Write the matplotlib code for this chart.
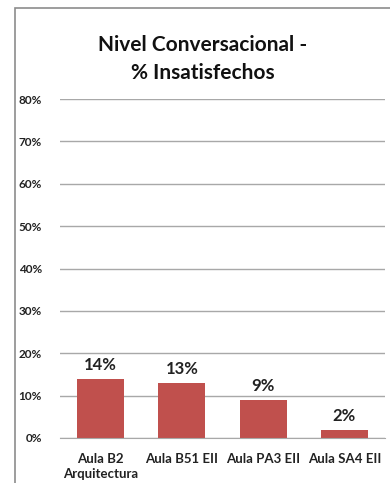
import matplotlib.pyplot as plt
from matplotlib.patches import Rectangle

categories = ["Aula B2\nArquitectura", "Aula B51 EII", "Aula PA3 EII", "Aula SA4 EII"]
values = [14, 13, 9, 2]
yticks = [0, 10, 20, 30, 40, 50, 60, 70, 80]

plt.rcParams["font.family"] = ["Lato", "DejaVu Sans"]

fig = plt.figure(figsize=(3.9, 4.83), dpi=100)
ax = fig.add_axes([60 / 390, 45 / 483, 325 / 390, 339 / 483])

# outer chart frame (cropped on right/bottom)
fig.patches.append(Rectangle((15 / 390, -0.1), 1.2, (483 - 8) / 483 + 0.1,
                             transform=fig.transFigure, fill=False,
                             edgecolor="#8c8c8c", linewidth=1.2))

x = range(len(categories))
bars = ax.bar(x, values, width=0.58, color="#C0504D")
for b, v in zip(bars, values):
    ax.text(b.get_x() + b.get_width() / 2, v + 1.4, f"{v}%", ha="center",
            va="bottom", fontsize=12, fontweight="bold", color="#222222")

ax.set_ylim(0, 80)
ax.set_xlim(-0.5, 3.5)
ax.set_yticks(yticks)
ax.set_yticklabels([f"{t}%" for t in yticks], fontsize=8.5, fontweight="bold", color="#222222")
ax.set_xticks(list(x))
ax.set_xticklabels(categories, fontsize=9.5, fontweight="bold", color="#222222", linespacing=1.3)
ax.tick_params(length=0)
ax.tick_params(axis="y", pad=13)
ax.tick_params(axis="x", pad=11)
ax.yaxis.grid(True, color="#a8a8a8", linewidth=1)
ax.set_axisbelow(True)
for s in ["top", "right", "left"]:
    ax.spines[s].set_visible(False)
ax.spines["bottom"].set_color("#a8a8a8")

fig.text(0.52, 0.878, "Nivel Conversacional -\n% Insatisfechos", ha="center", va="center",
         fontsize=15, fontweight="bold", color="#111111", linespacing=1.45)

fig.savefig("out.png", dpi=100)
